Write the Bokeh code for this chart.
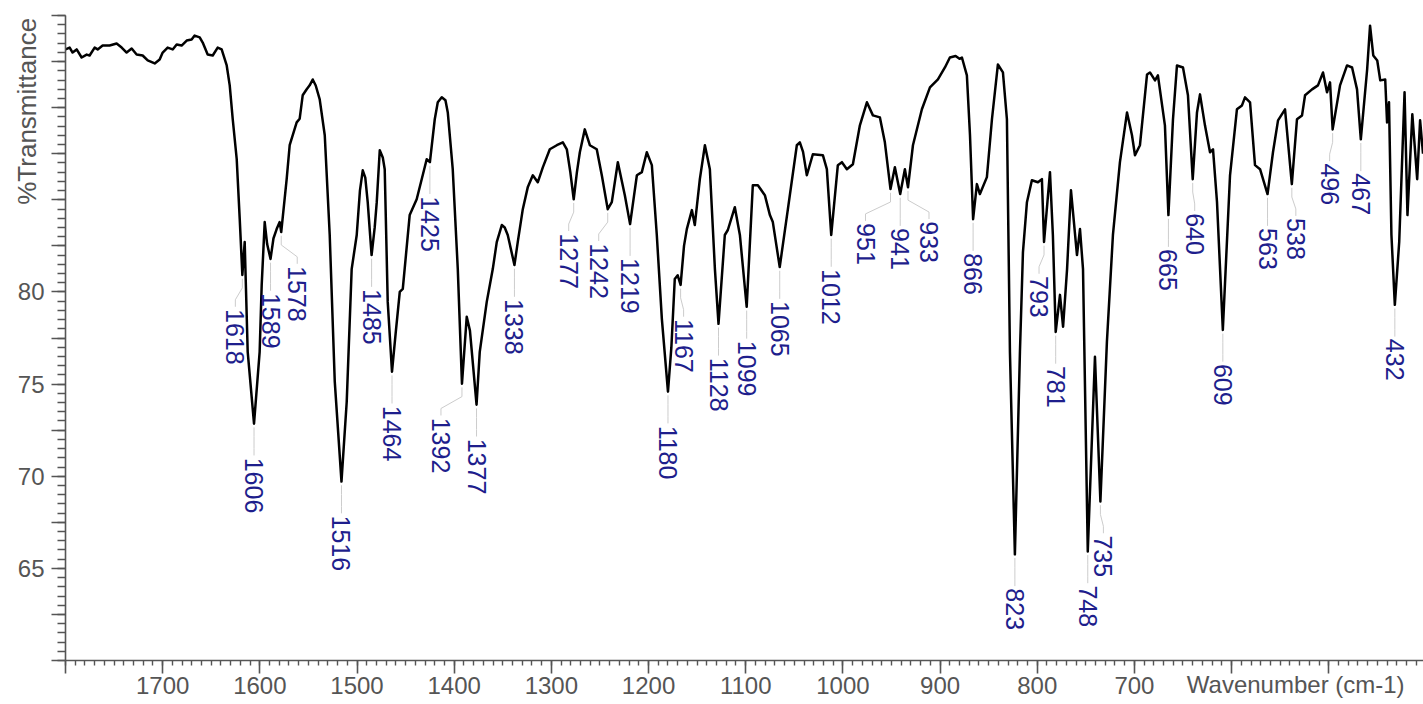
import math
from bokeh.plotting import figure
from bokeh.models import Range1d, FixedTicker, ColumnDataSource, LinearAxis
from bokeh.embed import file_html
from bokeh.resources import INLINE
from bokeh.core.properties import value

# ---------------- data ----------------
wavenumber = [
    1800, 1795.7, 1792.7, 1788.5, 1783.4, 1778.2, 1775.2, 1770.0, 1766.9, 1761.8,
    1754.6, 1747.4, 1742.2, 1737.1, 1731.9, 1726.8, 1720.6, 1715.4, 1708.2, 1703.1,
    1700.0, 1694.9, 1689.7, 1685.6, 1680.5, 1675.3, 1670.2, 1667.1, 1661.9, 1658.8,
    1653.7, 1648.5, 1643.4, 1639.3, 1634.1, 1631.0, 1627.9, 1623.8, 1620.7, 1618,
    1615.6, 1612.5, 1606, 1600.2, 1598.1, 1595.0, 1592.5, 1589, 1586.0, 1582.7,
    1579.6, 1578, 1572.4, 1569.3, 1562.1, 1559.0, 1555.9, 1551.8, 1548.7, 1545.6,
    1542.5, 1538.4, 1533.2, 1528.1, 1522.9, 1516, 1510.6, 1505.5, 1500.3, 1497.0,
    1494.1, 1491.5, 1489.0, 1485, 1481.8, 1479.7, 1476.6, 1473.5, 1471.5, 1468.4,
    1464, 1460.1, 1456.0, 1452.9, 1445.8, 1438.6, 1432.4, 1428.3, 1425, 1420.0,
    1416.9, 1412.8, 1409.0, 1406.6, 1401.5, 1396.3, 1392, 1387.1, 1383.8, 1377,
    1373.7, 1366.5, 1360.3, 1356.2, 1351.0, 1348.0, 1344.9, 1338, 1334.6, 1329.4,
    1324.2, 1319.1, 1314.0, 1308.7, 1301.6, 1294.4, 1288.2, 1284.1, 1280.5, 1277,
    1273.7, 1270.7, 1265.6, 1260.4, 1253.3, 1248.0, 1242, 1237.8, 1231.6, 1224.4,
    1219, 1215.0, 1212.0, 1206.9, 1201.8, 1196.6, 1191.5, 1186.3, 1180, 1176.5,
    1173.0, 1170.0, 1167, 1163.5, 1160.6, 1155.4, 1152.4, 1147.2, 1142.0, 1136.9,
    1131.7, 1128, 1121.5, 1118.4, 1111.2, 1106.0, 1099, 1092.7, 1087.5, 1080.3,
    1075.1, 1072.1, 1065, 1056.6, 1047.4, 1044.3, 1041.0, 1037.1, 1030.9, 1020.6,
    1016.5, 1012, 1005.2, 1001.0, 995.9, 989.7, 982.5, 975.3, 969.1, 961.9,
    956.8, 951, 946.5, 941, 936.2, 933, 927.9, 918.7, 910.4, 902.2,
    895.0, 889.9, 884.0, 880.0, 877.5, 872.4, 869.2, 866, 862.1, 859.0,
    851.8, 846.6, 840.5, 835.3, 831.2, 828.1, 823, 817.8, 814.7, 810.6,
    805.5, 799.3, 795.2, 793, 786.9, 783.9, 781, 776.6, 773.4, 769.3,
    765.3, 759.1, 756.0, 752.9, 748, 740.6, 735, 728.3, 722.1, 714.9,
    707.6, 702.5, 699.4, 694.3, 687.0, 684.0, 678.8, 675.8, 668.6, 665,
    660.3, 656.2, 650.0, 644.9, 640, 635.6, 632.5, 627.4, 622.2, 619.1,
    615.0, 609, 601.6, 594.5, 589.3, 586.2, 581.0, 575.9, 570.7, 563,
    557.4, 552.2, 545.0, 538, 532.7, 527.5, 524.4, 517.2, 511.1, 505.9,
    501.8, 498.7, 496, 488.4, 481.2, 476.0, 470.9, 467, 460.5, 457.5,
    454.2, 450.1, 447.0, 441.9, 440.0, 438.0, 435.5, 432, 427.5, 422.0,
    419.0, 414.0, 409.0, 406.0, 403.0,
]

transmittance = [
    93.16, 93.26, 92.99, 93.16, 92.72, 92.88, 92.83, 93.26, 93.16, 93.37,
    93.37, 93.48, 93.26, 92.99, 93.21, 92.88, 92.83, 92.56, 92.40, 92.61,
    92.99, 93.26, 93.16, 93.43, 93.37, 93.64, 93.70, 93.91, 93.81, 93.53,
    92.88, 92.83, 93.26, 93.16, 92.29, 91.21, 89.37, 87.20, 83.95, 80.92,
    82.71, 76.75, 72.85, 76.75, 80.38, 83.79, 82.60, 81.79, 82.90, 83.41,
    83.79, 83.25, 86.12, 87.96, 89.20, 89.40, 90.67, 91.00, 91.21, 91.53,
    91.20, 90.45, 88.50, 83.09, 75.13, 69.71, 74.04, 81.24, 83.09, 85.50,
    86.60, 86.20, 84.87, 82.00, 83.50, 84.87, 87.69, 87.30, 86.66, 79.46,
    75.67, 77.83, 80.00, 80.16, 84.17, 85.03, 86.33, 87.20, 87.04, 89.37,
    90.29, 90.56, 90.40, 89.74, 86.66, 81.24, 75.02, 78.65, 77.90, 73.88,
    76.75, 79.46, 81.24, 82.70, 83.63, 83.50, 83.09, 81.46, 82.70, 84.49,
    85.70, 86.33, 85.95, 86.77, 87.74, 87.96, 88.12, 87.74, 86.50, 85.03,
    86.50, 87.58, 88.82, 87.96, 87.74, 86.30, 84.49, 84.87, 87.04, 85.25,
    83.68, 85.20, 86.33, 86.50, 87.58, 86.88, 83.09, 78.54, 74.59, 77.00,
    80.70, 80.90, 80.38, 82.50, 83.41, 84.44, 83.63, 86.12, 87.96, 86.66,
    81.24, 78.27, 83.09, 83.36, 84.60, 83.09, 79.19, 85.79, 85.79, 85.25,
    84.17, 83.79, 81.35, 84.49, 87.96, 88.12, 87.60, 86.33, 87.47, 87.42,
    86.66, 83.09, 86.88, 87.04, 86.66, 86.93, 89.04, 90.29, 89.58, 89.47,
    88.12, 85.58, 86.77, 85.31, 86.66, 85.68, 87.96, 89.91, 91.10, 91.53,
    92.18, 92.72, 92.80, 92.65, 92.72, 91.75, 88.50, 83.95, 85.85, 85.31,
    86.23, 89.37, 92.34, 91.91, 89.37, 76.75, 65.76, 76.75, 82.16, 84.87,
    86.06, 85.95, 86.12, 82.71, 86.50, 83.09, 77.83, 79.84, 78.11, 81.24,
    85.52, 82.00, 83.41, 81.24, 65.92, 76.48, 68.63, 77.29, 83.09, 87.04,
    89.74, 88.50, 87.42, 87.96, 91.80, 91.91, 91.48, 91.75, 89.04, 84.17,
    89.37, 92.29, 92.18, 90.67, 86.12, 89.74, 90.72, 89.04, 87.58, 87.74,
    84.87, 77.94, 86.33, 89.91, 90.12, 90.56, 90.29, 86.88, 86.66, 85.31,
    87.58, 89.31, 89.91, 85.85, 89.37, 89.58, 90.67, 90.99, 91.21, 91.91,
    90.83, 91.37, 88.82, 91.21, 92.29, 92.18, 90.99, 88.28, 92.07, 94.45,
    92.83, 92.56, 91.48, 91.53, 89.20, 90.29, 83.09, 79.30, 82.71, 90.83,
    84.17, 89.64, 86.12, 89.31, 87.50,
]

peak_wavenumbers = [1618, 1606, 1589, 1578, 1516, 1485, 1464, 1425, 1392, 1377,
                    1338, 1277, 1242, 1219, 1180, 1167, 1128, 1099, 1065, 1012,
                    951, 941, 933, 866, 823, 793, 781, 748, 735, 665,
                    640, 609, 563, 538, 496, 467, 432]
peak_transmittance = [80.92, 72.85, 81.79, 83.25, 69.71, 82.00, 75.67, 87.04, 75.02, 73.88,
                      81.46, 85.03, 84.49, 83.68, 74.59, 80.38, 78.27, 79.19, 81.35, 83.09,
                      85.58, 85.31, 85.68, 83.95, 65.76, 82.71, 77.83, 65.92, 68.63, 84.17,
                      86.12, 77.94, 85.31, 85.85, 88.82, 88.28, 79.30]

y_tick_labels = {65: "65", 70: "70", 75: "75", 80: "80"}
x_tick_labels = {w: str(w) for w in range(1700, 699, -100)}
x_title = "Wavenumber (cm-1)"
y_title = "%Transmittance"

# ---------------- layout / style ----------------
FIG_W, FIG_H = 1423, 704
BORDER_L, BORDER_T, BORDER_B = 65, 15, 44
X_START, X_END = 1800, 402.5
Y_START, Y_END = 60, 95
px_per_x = (FIG_W - BORDER_L) / (X_START - X_END)
px_per_y = (FIG_H - BORDER_T - BORDER_B) / (Y_END - Y_START)

# horizontal shift (screen px, + = right) of each peak label relative to its peak
label_shift_px = [-7, 0, 0, 16, 0, 0, 0, 0, -21, 0,
                  0, -5, -9, 0, 0, 3, 0, 0, 0, 0,
                  -25, 0, 21, 0, 0, -5, 0, 0, 3, 0,
                  2, 0, 0, 4, -3, 0, 0]
LABEL_GAP_PX = 34
X_TITLE_POS = 534      # centre of the x title, in axis units
Y_TITLE_POS = 89.8     # centre of the y title, in axis units

assert len(wavenumber) == len(transmittance)

p = figure(width=FIG_W, height=FIG_H,
           x_range=Range1d(X_START, X_END), y_range=Range1d(Y_START, Y_END),
           output_backend="svg", toolbar_location=None,
           min_border_left=BORDER_L, min_border_right=0,
           min_border_top=BORDER_T, min_border_bottom=BORDER_B,
           outline_line_color=None, background_fill_color="white",
           border_fill_color="white")
p.grid.visible = False

axis_col = "#555555"
FONT = "Liberation Sans"

# x axis
x_major = list(range(1800, 399, -100))
x_minor = [w for w in range(1800, 402, -10)]
xa = p.xaxis[0]
xa.ticker = FixedTicker(ticks=x_major, minor_ticks=x_minor)
xa.major_label_overrides = {w: x_tick_labels.get(w, "") for w in x_major}
xa.axis_line_color = axis_col
xa.axis_line_width = 1.6
xa.major_tick_line_color = axis_col
xa.major_tick_line_width = 1.6
xa.minor_tick_line_color = axis_col
xa.minor_tick_line_width = 1.4
xa.major_tick_out = 13
xa.major_tick_in = 0
xa.minor_tick_out = 5
xa.minor_tick_in = 0
xa.major_label_standoff = 3
xa.major_label_text_font = FONT
xa.major_label_text_font_size = "24px"
xa.major_label_text_color = axis_col

# y axis
y_major = [60 + 2.5 * i for i in range(15)]
y_minor = [60 + 0.5 * i for i in range(71)]
ya = p.yaxis[0]
ya.ticker = FixedTicker(ticks=y_major, minor_ticks=y_minor)
ya.major_label_overrides = {t: (y_tick_labels.get(int(t), "") if float(t).is_integer() else "") for t in y_major}
ya.axis_line_color = axis_col
ya.axis_line_width = 1.6
ya.major_tick_line_color = axis_col
ya.major_tick_line_width = 1.6
ya.minor_tick_line_color = axis_col
ya.minor_tick_line_width = 1.4
ya.major_tick_out = 14
ya.major_tick_in = 0
ya.minor_tick_out = 8
ya.minor_tick_in = 0
ya.major_label_standoff = 7
ya.major_label_text_font = FONT
ya.major_label_text_font_size = "24px"
ya.major_label_text_color = axis_col


def title_axis(pos, text, size, standoff, orientation):
    return LinearAxis(ticker=FixedTicker(ticks=[pos], minor_ticks=[]),
                      major_label_overrides={pos: text},
                      major_label_orientation=orientation,
                      major_label_standoff=standoff,
                      major_tick_out=0, major_tick_in=0,
                      minor_tick_out=0, minor_tick_in=0,
                      axis_line_color=None, major_tick_line_color=None,
                      minor_tick_line_color=None,
                      major_label_text_font=FONT,
                      major_label_text_font_size=size,
                      major_label_text_color=axis_col)


# axis titles, drawn as the single label of an extra (invisible) axis
p.add_layout(title_axis(Y_TITLE_POS, y_title, "26px", -28, "vertical"), "left")
p.add_layout(title_axis(X_TITLE_POS, x_title, "24px", -26, "horizontal"), "below")

# spectrum
p.line(wavenumber, transmittance, line_color="black", line_width=2.5, line_join="round")

# peak labels + leader lines
gap = LABEL_GAP_PX / px_per_y
lab_x, lab_y, lab_t, xs, ys = [], [], [], [], []
for w, t, dx in zip(peak_wavenumbers, peak_transmittance, label_shift_px):
    lx = w - dx / px_per_x
    ly = t - gap
    lab_x.append(lx)
    lab_y.append(ly)
    lab_t.append(str(w))
    xs.append([w, w, lx, lx])
    ys.append([t - 0.2, t - 0.7, ly + 0.5, ly + 0.12])

p.multi_line(xs, ys, line_color="#cccccc", line_width=1)
src = ColumnDataSource(dict(x=lab_x, y=lab_y, text=lab_t))
p.text(x="x", y="y", text="text", source=src, angle=-math.pi / 2,
       text_align="left", text_baseline="middle",
       text_font=value(FONT), text_font_size=value("25px"),
       text_color="#1e1e8c")

open("out.html", "w").write(file_html(p, INLINE))
